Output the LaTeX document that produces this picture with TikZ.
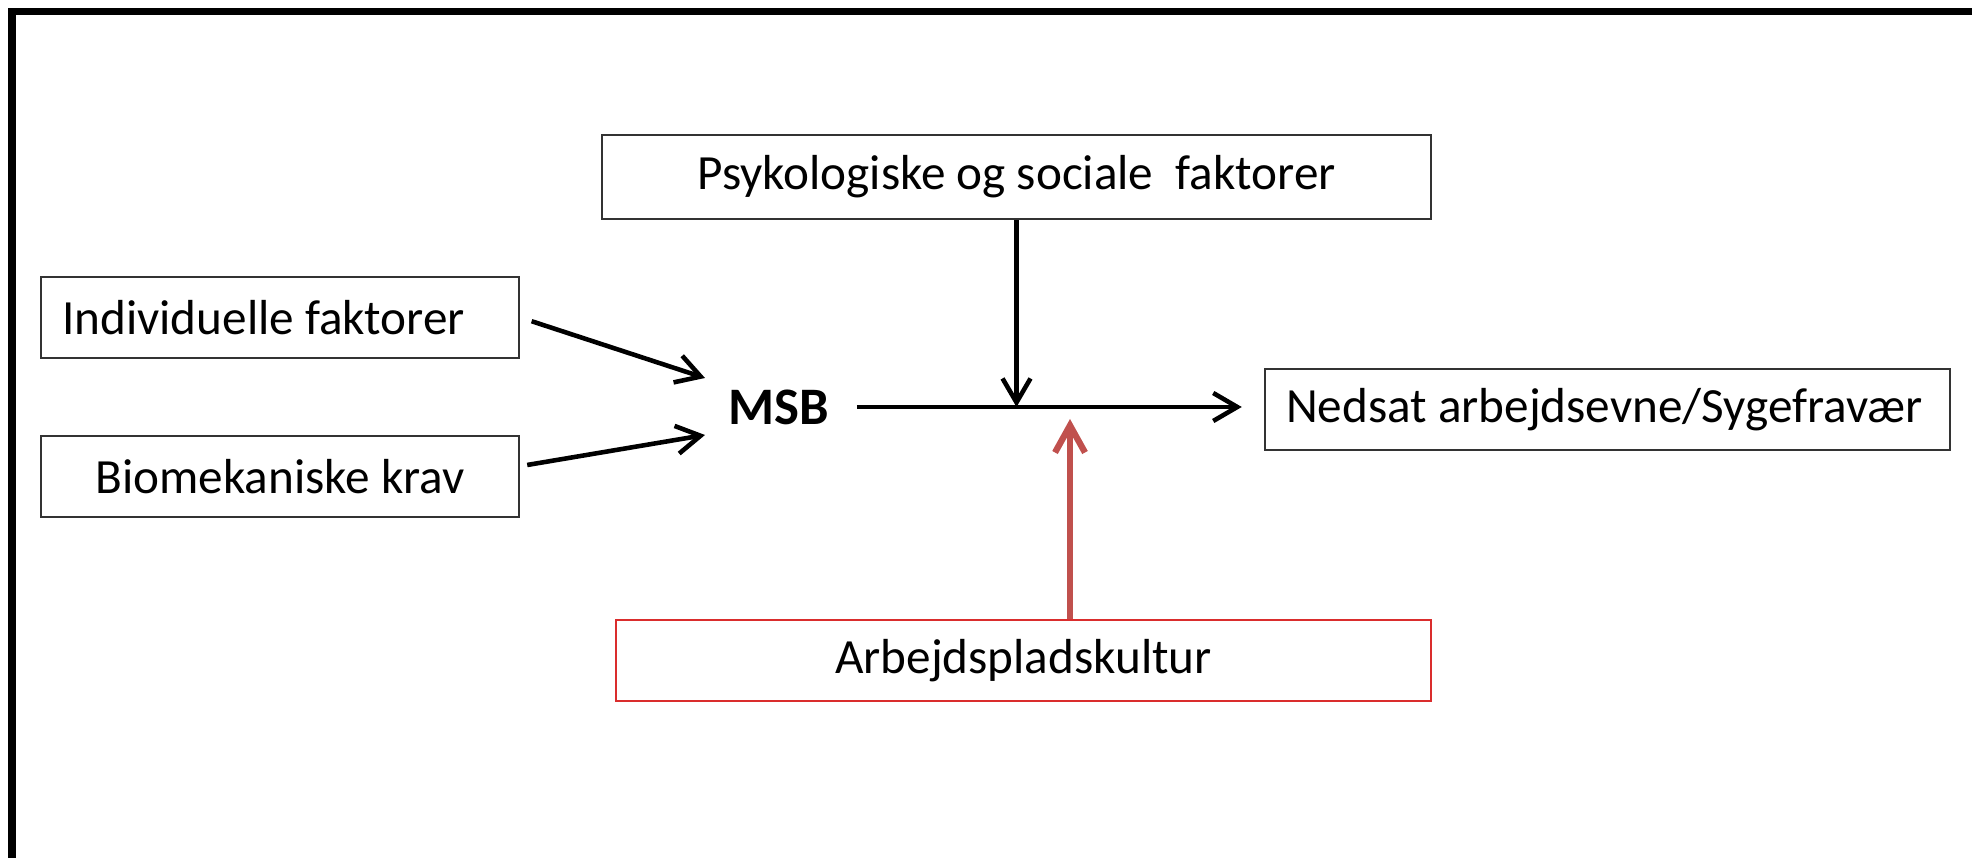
\documentclass[tikz,border=0pt]{standalone}
\usepackage{fontspec}
\setmainfont{Carlito}
\usetikzlibrary{arrows.meta}

\definecolor{redarrow}{RGB}{192,80,77}
\definecolor{redframe}{RGB}{218,45,45}

\tikzset{
  factor/.style={draw=black!80, line width=0.7pt, minimum height=0.81cm, inner sep=0pt, font=\fontsize{14}{16}\selectfont},
  link/.style={line width=1.3pt, -{Straight Barb[length=0.24cm,width=0.28cm]}},
  redlink/.style={line width=1.8pt, redarrow, -{Straight Barb[length=0.27cm,width=0.30cm]}},
}

\begin{document}
\begin{tikzpicture}
    \useasboundingbox (0,0) rectangle (19.72,8.58);

    % frame
    \draw[line width=2pt] (0.12,0) -- (0.12,8.46) -- (19.72,8.46);

    % factor boxes
    \node[factor, minimum width=8.29cm, minimum height=0.84cm] (psyk) at (10.165,6.81) {Psykologiske og sociale \ faktorer};
    \node[factor, minimum width=4.78cm, text width=4.36cm, align=flush left] (indiv) at (2.80,5.405) {Individuelle faktorer};
    \node[factor, minimum width=4.78cm] (biomek) at (2.80,3.815) {Biomekaniske krav};
    \node[factor, minimum width=6.85cm, text width=6.43cm, align=flush left] (nedsat) at (16.075,4.485) {Nedsat arbejdsevne/Sygefravær};
    \node[factor, draw=redframe, minimum width=8.15cm] (kultur) at (10.235,1.975) {Arbejdspladskultur};

    % outcome
    \node[inner sep=0pt, font=\bfseries\fontsize{15}{17}\selectfont] (msb) at (7.79,4.51) {MSB};

    % arrow ends
    \coordinate (msbin1) at (7.05,4.80);
    \coordinate (msbin2) at (7.05,4.23);
    \coordinate (hit) at (10.70,4.39);

    % arrows into MSB
    \draw[link, shorten <=0.12cm] (indiv.east) -- (msbin1);
    \draw[link] ([shift={(0.07,0.115)}]biomek.east) -- (msbin2);

    % MSB to outcome
    \draw[link, shorten <=0.27cm, shorten >=0.22cm] (msb.east) -- (msb.east -| nedsat.west);

    % moderators
    \draw[link] (psyk.south) -- (psyk.south |- msb.east);
    \draw[redlink] (kultur.north -| hit) -- (hit);
\end{tikzpicture}
\end{document}
